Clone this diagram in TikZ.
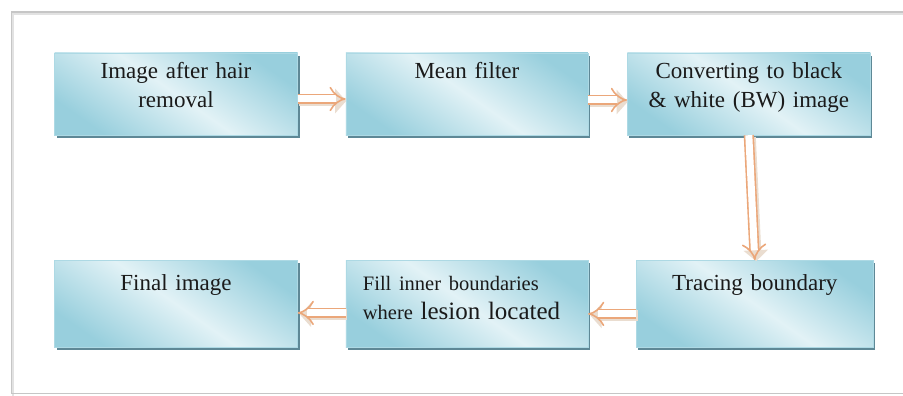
\documentclass[tikz,border=0pt]{standalone}
\usepackage{fontspec}
\setmainfont{Liberation Serif}
\usepackage{tikz}
\usetikzlibrary{positioning, arrows.meta}
\usepackage{xcolor}
\definecolor{boxdark}{HTML}{98CFDD}
\definecolor{boxlight}{HTML}{E2F2F6}
\definecolor{boxshade}{HTML}{5E8896}
\definecolor{arroworange}{HTML}{EBA77A}
\definecolor{arrowtan}{HTML}{EADDD0}
\definecolor{framegray}{HTML}{C6C6C6}
\definecolor{textgray}{HTML}{1A1A1A}

\begin{document}
\begin{tikzpicture}[x=1pt, y=-1pt, node distance=48pt,
            box/.style={rectangle, inner sep=0pt, minimum width=243pt,
              text width=230pt, align=center, text=textgray,
              font=\fontsize{23}{29}\selectfont,
              preaction={fill=boxshade, transform canvas={shift={(2pt,-3pt)}}},
              shading=axis, top color=boxdark, bottom color=boxdark, middle color=boxlight,
              shading angle=-35, draw=boxdark!80, line width=0.4pt},
            toprow/.style={box, minimum height=82pt, text height=25pt, text depth=57pt},
            botrow/.style={box, minimum height=87pt, text height=30pt, text depth=57pt},
            flow/.style={draw=arroworange, line width=1.6pt, double=white,
              double distance=7pt, -{Implies},
              preaction={draw=arrowtan, line width=11pt,
                -{Triangle[width=24pt, length=11pt]}, shorten >=1pt,
                transform canvas={shift={(1.5pt,-2pt)}}}}]

        \useasboundingbox (0,0) rectangle (903,396);

        % --- Frame ---
        \draw[framegray!50, line width=2.5pt] (903,13.5) -- (13,13.5) -- (13,396);
        \draw[framegray, line width=1.2pt] (903,12) -- (11.5,12) -- (11.5,393.5) -- (903,393.5);

        % --- Steps ---
        \node[toprow] (img) at (176,94) {Image after hair\\removal};
        \node[toprow, minimum width=242pt, right=48pt of img] (mean) {Mean filter};
        \node[toprow, right=39pt of mean] (conv) {Converting to black\\\& white (BW) image};
        \node[botrow, below=125pt of img] (final) {Final image};
        \node[botrow, minimum width=242pt, text width=208pt, align=left, right=48pt of final] (fill)
            {{\fontsize{20.5}{29}\selectfont Fill inner boundaries}\\
             {\fontsize{20.5}{29}\selectfont where} {\fontsize{25}{29}\selectfont lesion located}};
        \node[botrow, minimum width=237pt, right=48pt of fill] (trace) {Tracing boundary};

        % --- Flow ---
        \draw[flow] ([yshift=-5pt]img.east) -- ([yshift=-5pt]mean.west);
        \draw[flow] ([yshift=-6pt]mean.east) -- ([yshift=-6pt]conv.west);
        \draw[flow] (conv.south) -- (trace.north);
        \draw[flow] ([yshift=-10pt]trace.west) -- ([yshift=-10pt]fill.east);
        \draw[flow] ([yshift=-9pt]fill.west) -- ([yshift=-9pt]final.east);

    \end{tikzpicture}
\end{document}
